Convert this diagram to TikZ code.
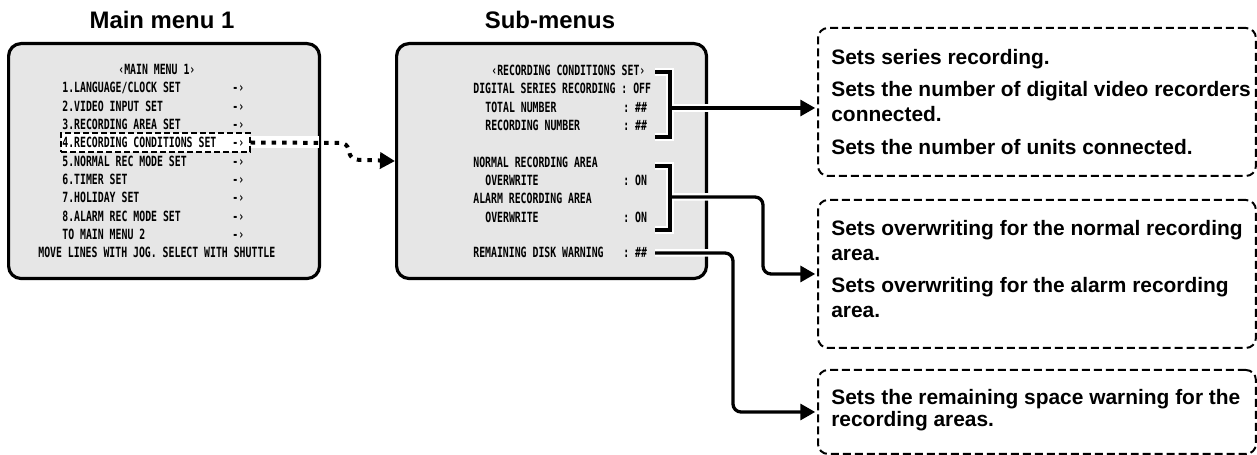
\documentclass[tikz,border=0pt]{standalone}
\usepackage{fontspec}
\setmainfont{Liberation Sans}
\newfontfamily\osdfont{DejaVu Sans Mono}[FakeStretch=0.70]
\usetikzlibrary{arrows.meta, positioning}
\definecolor{screengray}{HTML}{E6E6E6}
\newcommand{\osd}{
node[osd]
}
\tikzset{
  screen/.style={draw, line width=1.8pt, fill=screengray, rounded corners=0.25cm,
    minimum height=4.7cm, anchor=north west},
  osd/.style={font={\osdfont\bfseries\frenchspacing\fontsize{8}{9}\selectfont},
    inner sep=0pt, anchor=mid west},
  title/.style={font={\bfseries\fontsize{13.6}{16}\selectfont}},
  hlbox/.style={draw, fill=white, line width=0.7pt, dash pattern=on 0.12cm off 0.06cm,
    minimum width=3.78cm, minimum height=0.38cm, inner sep=0pt},
  descbox/.style={draw, line width=0.04cm, dash pattern=on 0.16cm off 0.08cm,
    rounded corners=0.2cm, anchor=north west, minimum width=8.76cm},
  desctext/.style={inner sep=0pt, align=left,
    font={\bfseries\fontsize{11.9}{14.2}\selectfont}},
  leadtip/.tip={Triangle[length=0.3cm, width=0.32cm]},
  lead/.style={line width=0.066cm, rounded corners=0.16cm},
  halo/.style={lead, white, line width=0.15cm, shorten >=0.3cm},
  bracket/.style={line width=0.066cm},
  brackethalo/.style={white, line width=0.15cm},
  dotlead/.style={line width=0.08cm, dash pattern=on 0.09cm off 0.12cm,
    rounded corners=0.12cm, -leadtip},
}

\begin{document}
\begin{tikzpicture}[x=0.02cm, y=-0.02cm]
\useasboundingbox (0,0) rectangle (1257,455);
% titles
\node[title] (maintitle) at (162,20) {Main menu 1};
\node[title] (subtitle) at (550,20) {Sub-menus};
% screens
\node[screen, minimum width=6.22cm] (mainscr) at (7,42) {};
\node[screen, minimum width=6.2cm] (subscr) at (395,42) {};
% selected entry
\node[hlbox] (hl) at (155.5,142.5) {};
\draw[white, line width=0.24cm, shorten >=0.04cm] (hl.east) -- (mainscr.east |- hl.east);
% main menu 1
\path (118,70) \osd (mhead) {‹MAIN MENU 1›};
\path (62,88.3) \osd (m1) {1.LANGUAGE/CLOCK SET};
\path (232,88.3) \osd (a1) {-›};
\path (62,106.6) \osd (m2) {2.VIDEO INPUT SET};
\path (232,106.6) \osd (a2) {-›};
\path (62,124.9) \osd (m3) {3.RECORDING AREA SET};
\path (232,124.9) \osd (a3) {-›};
\path (62,143.2) \osd (m4) {4.RECORDING CONDITIONS SET};
\path (232,143.2) \osd (a4) {-›};
\path (62,161.5) \osd (m5) {5.NORMAL REC MODE SET};
\path (232,161.5) \osd (a5) {-›};
\path (62,179.8) \osd (m6) {6.TIMER SET};
\path (232,179.8) \osd (a6) {-›};
\path (62,198.1) \osd (m7) {7.HOLIDAY SET};
\path (232,198.1) \osd (a7) {-›};
\path (62,216.4) \osd (m8) {8.ALARM REC MODE SET};
\path (232,216.4) \osd (a8) {-›};
\path (62,234.7) \osd (m9) {TO MAIN MENU 2};
\path (232,234.7) \osd (a9) {-›};
\path (38,253) \osd (mfoot) {MOVE LINES WITH JOG. SELECT WITH SHUTTLE};
% dotted jump to the sub-menu
\draw[dotlead] (hl.east) -- (347,143) -- (351,159.5) -- (subscr.west);
% recording conditions set
\path (491,71) \osd (shead) {‹RECORDING CONDITIONS SET›};
\path (473,89.3) \osd (s1) {DIGITAL SERIES RECORDING : OFF};
\path (485,107.6) \osd (s2) {TOTAL NUMBER};
\path (623,107.6) \osd (v2) {: \#\#};
\path (485,125.9) \osd (s3) {RECORDING NUMBER};
\path (623,125.9) \osd (v3) {: \#\#};
\path (473,162.5) \osd (s5) {NORMAL RECORDING AREA};
\path (485,180.8) \osd (s6) {OVERWRITE};
\path (623,180.8) \osd (v6) {: ON};
\path (473,199.1) \osd (s7) {ALARM RECORDING AREA};
\path (485,217.4) \osd (s8) {OVERWRITE};
\path (623,217.4) \osd (v8) {: ON};
\path (473,253) \osd (s10) {REMAINING DISK WARNING};
\path (623,253) \osd (v10) {: \#\#};
% descriptions
\node[descbox, minimum height=2.96cm] (box1) at (817,27) {};
\node[descbox, minimum height=2.96cm] (box2) at (817,199) {};
\node[descbox, minimum height=1.68cm] (box3) at (817,369) {};
\node[desctext, right=0.28cm of box1.west] (desc1) {Sets series recording.\\[4.5pt]
  Sets the number of digital video recorders\\ connected.\\[4.5pt]
  Sets the number of units connected.};
\node[desctext, right=0.28cm of box2.west, yshift=0.1cm] (desc2) {Sets overwriting for the normal recording\\ area.\\[4.5pt]
  Sets overwriting for the alarm recording\\ area.};
\node[desctext, right=0.28cm of box3.west, yshift=0.04cm,
  font={\bfseries\fontsize{11.9}{10.5}\selectfont}] (desc3) {Sets the remaining space warning for the\\ recording areas.};
% brackets and leads
\coordinate (stem1) at (670,108);
\coordinate (stem2) at (670,197);
\coordinate (stem3) at (655,253);
\draw[brackethalo] (655,72) -- (670,72) -- (670,137) -- (655,137);
\draw[brackethalo] (655,166) -- (670,166) -- (670,230) -- (655,230);
\draw[halo] (stem1) -- (box1.west |- stem1);
\draw[halo] (stem2) -- (763,197) |- (box2.west);
\draw[halo] (stem3) -- (733,253) |- (box3.west);
\draw[bracket] (655,72) -- (670,72) -- (670,137) -- (655,137);
\draw[bracket] (655,166) -- (670,166) -- (670,230) -- (655,230);
\draw[lead, -leadtip, shorten >=1pt] (stem1) -- (box1.west |- stem1);
\draw[lead, -leadtip, shorten >=1pt] (stem2) -- (763,197) |- (box2.west);
\draw[lead, -leadtip, shorten >=1pt] (stem3) -- (733,253) |- (box3.west);
\end{tikzpicture}
\end{document}
